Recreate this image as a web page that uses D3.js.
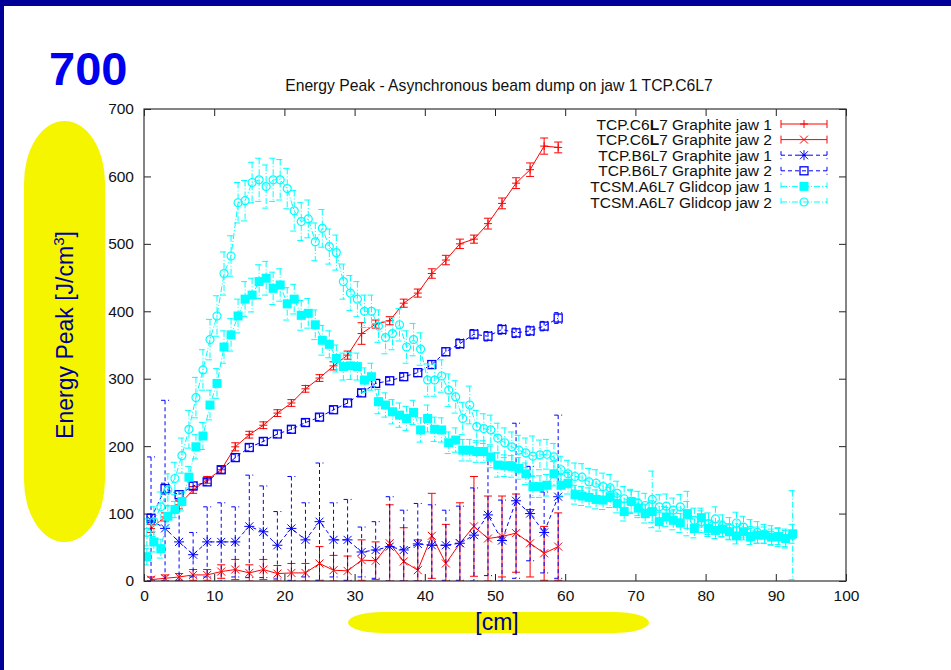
<!DOCTYPE html>
<html>
<head>
<meta charset="utf-8">
<script src="https://cdn.jsdelivr.net/npm/d3@7"></script>
<style>
  html, body { margin: 0; padding: 0; background: #fff; }
  svg { display: block; }
  text { font-family: "Liberation Sans", Arial, Helvetica, sans-serif; }
</style>
</head>
<body>
<svg id="slide" width="951" height="670"></svg>
<script>
// positions along the jaw [cm]
const graphiteX = [1, 3, 5, 7, 9, 11, 13, 15, 17, 19, 21, 23, 25, 27, 29, 31, 33, 35, 37, 39, 41, 43, 45, 47, 49, 51, 53, 55, 57, 59];
const glidX = [
  0.4, 1.4, 2.4, 3.4, 4.4, 5.4, 6.4, 7.4, 8.4, 9.4,
  10.4, 11.4, 12.4, 13.4, 14.4, 15.4, 16.4, 17.4, 18.4, 19.4,
  20.4, 21.4, 22.4, 23.4, 24.4, 25.4, 26.4, 27.4, 28.4, 29.4,
  30.4, 31.4, 32.4, 33.4, 34.4, 35.4, 36.4, 37.4, 38.4, 39.4,
  40.4, 41.4, 42.4, 43.4, 44.4, 45.4, 46.4, 47.4, 48.4, 49.4,
  50.4, 51.4, 52.4, 53.4, 54.4, 55.4, 56.4, 57.4, 58.4, 59.4,
  60.4, 61.4, 62.4, 63.4, 64.4, 65.4, 66.4, 67.4, 68.4, 69.4,
  70.4, 71.4, 72.4, 73.4, 74.4, 75.4, 76.4, 77.4, 78.4, 79.4,
  80.4, 81.4, 82.4, 83.4, 84.4, 85.4, 86.4, 87.4, 88.4, 89.4,
  90.4, 91.4, 92.4];

// energy peak [J/cm3] and errors
const c6Jaw1 = [78, 95, 113, 135, 150, 165, 199, 217, 231, 249, 264, 285, 301, 319, 335, 367, 381, 386, 412, 427, 456, 476, 500, 507, 530, 560, 590, 610, 645, 643];
const c6Jaw1Err = [6, 6, 6, 5, 5, 5, 6, 5, 5, 5, 5, 5, 5, 6, 6, 16, 6, 6, 6, 6, 7, 7, 7, 6, 8, 8, 8, 10, 12, 8];
const c6Jaw2 = [2, 4, 6, 9, 9, 14, 17, 12, 17, 11, 12, 12, 26, 16, 15, 31, 30, 56, 29, 16, 67, 26, 56, 81, 63, 66, 71, 56, 41, 51];
const c6Jaw2Err = [4, 5, 5, 8, 8, 10, 15, 12, 15, 12, 14, 14, 25, 22, 22, 30, 28, 57, 50, 45, 63, 58, 60, 74, 63, 60, 58, 50, 40, 50];
const b6Jaw1 = [90, 78, 58, 39, 58, 58, 58, 81, 73, 53, 78, 61, 88, 61, 61, 43, 46, 51, 46, 55, 53, 53, 56, 68, 98, 60, 119, 100, 72, 125];
const b6Jaw1Err = [94, 190, 60, 33, 52, 58, 52, 76, 68, 50, 77, 55, 87, 55, 60, 37, 42, 74, 59, 60, 60, 52, 55, 70, 90, 60, 115, 70, 60, 121];
const b6Jaw2 = [93, 137, 128, 141, 147, 165, 183, 198, 207, 218, 225, 235, 243, 254, 264, 279, 293, 297, 303, 309, 321, 340, 352, 366, 363, 373, 368, 371, 378, 390];
const b6Jaw2Err = [6, 8, 6, 5, 5, 5, 5, 5, 5, 5, 5, 5, 5, 5, 5, 5, 5, 5, 5, 6, 6, 6, 7, 7, 7, 7, 7, 7, 7, 8];
const glidJaw1 = [
  36, 58, 48, 96, 106, 118, 154, 199, 215, 261,
  293, 347, 365, 393, 418, 424, 444, 449, 434, 439,
  411, 418, 394, 397, 380, 357, 351, 330, 318, 319,
  318, 298, 303, 266, 261, 251, 246, 241, 250, 224,
  241, 225, 224, 205, 209, 194, 194, 192, 192, 184,
  172, 171, 170, 167, 159, 140, 140, 142, 159, 142,
  145, 128, 126, 124, 121, 120, 125, 115, 103, 118,
  108, 100, 103, 88, 95, 90, 86, 100, 78, 94,
  78, 75, 77, 73, 67, 73, 66, 68, 68, 65,
  66, 63, 70];
const glidJaw1Err = [
  12, 15, 14, 16, 12, 14, 16, 18, 20, 22,
  22, 24, 24, 25, 26, 25, 25, 25, 24, 24,
  24, 22, 22, 22, 22, 22, 20, 20, 20, 20,
  20, 18, 20, 18, 18, 18, 18, 18, 18, 18,
  20, 18, 18, 16, 18, 16, 16, 16, 16, 16,
  18, 16, 16, 16, 16, 16, 16, 16, 18, 16,
  16, 14, 14, 14, 14, 14, 16, 14, 14, 16,
  14, 14, 16, 14, 14, 14, 14, 33, 14, 14,
  12, 12, 12, 12, 12, 12, 12, 12, 12, 12,
  12, 12, 14];
const glidJaw2 = [
  72, 88, 110, 135, 152, 186, 225, 272, 313, 358,
  393, 456, 482, 561, 564, 591, 595, 585, 595, 595,
  582, 549, 533, 537, 503, 523, 496, 487, 444, 427,
  418, 400, 400, 378, 361, 367, 380, 347, 358, 344,
  298, 298, 304, 283, 273, 241, 261, 229, 226, 224,
  212, 205, 199, 194, 190, 185, 187, 188, 184, 165,
  159, 155, 154, 147, 145, 140, 138, 130, 122, 118,
  115, 112, 121, 110, 111, 105, 110, 98, 90, 88,
  85, 92, 82, 78, 86, 80, 75, 72, 70, 68,
  65, 63, 68];
const glidJaw2Err = [
  20, 22, 22, 24, 24, 26, 28, 30, 30, 30,
  30, 32, 30, 30, 30, 30, 32, 32, 32, 30,
  30, 30, 28, 28, 28, 28, 26, 26, 26, 26,
  26, 24, 24, 24, 24, 24, 24, 24, 24, 24,
  24, 24, 24, 24, 24, 24, 28, 24, 22, 22,
  22, 22, 22, 22, 22, 30, 22, 22, 20, 20,
  20, 20, 20, 20, 20, 20, 20, 18, 18, 18,
  18, 18, 42, 18, 18, 18, 18, 20, 18, 16,
  16, 18, 16, 16, 16, 16, 16, 16, 14, 14,
  14, 14, 66];

const xTicks = [0, 10, 20, 30, 40, 50, 60, 70, 80, 90, 100];
const yTicks = [0, 100, 200, 300, 400, 500, 600, 700];

const series = [
  { name: "TCP.C6L7 Graphite jaw 1", x: graphiteX, y: c6Jaw1, err: c6Jaw1Err, color: "#ff0000", dash: null, marker: "plus" },
  { name: "TCP.C6L7 Graphite jaw 2", x: graphiteX, y: c6Jaw2, err: c6Jaw2Err, color: "#ff0000", dash: null, marker: "cross" },
  { name: "TCP.B6L7 Graphite jaw 1", x: graphiteX, y: b6Jaw1, err: b6Jaw1Err, color: "#0000ff", dash: "4,3", marker: "star" },
  { name: "TCP.B6L7 Graphite jaw 2", x: graphiteX, y: b6Jaw2, err: b6Jaw2Err, color: "#0000ff", dash: "4,3", marker: "box" },
  { name: "TCSM.A6L7 Glidcop jaw 1", x: glidX, y: glidJaw1, err: glidJaw1Err, color: "#00ffff", dash: "6,2,1,2", marker: "fbox" },
  { name: "TCSM.A6L7 Glidcop jaw 2", x: glidX, y: glidJaw2, err: glidJaw2Err, color: "#00ffff", dash: "6,2,1,2", marker: "circle" }
];

const svg = d3.select("#slide");
const plot = { left: 144, right: 846, top: 109, bottom: 581 };

const x = d3.scaleLinear().domain([0, 100]).range([plot.left, plot.right]);
const y = d3.scaleLinear().domain([0, 700]).range([plot.bottom, plot.top]);

// slide decoration
svg.append("rect").attr("x", 0).attr("y", 0).attr("width", 951).attr("height", 6).attr("fill", "#000099");
svg.append("rect").attr("x", 0).attr("y", 0).attr("width", 4).attr("height", 670).attr("fill", "#000099");

svg.append("text")
  .attr("x", 49).attr("y", 85)
  .attr("font-size", 47).attr("font-weight", "bold")
  .attr("fill", "#0000ee")
  .text("700");

svg.append("rect")
  .attr("x", 24).attr("y", 121).attr("width", 81).attr("height", 421)
  .attr("rx", 40).attr("ry", 62)
  .attr("fill", "#f5f500");
svg.append("rect")
  .attr("x", 348).attr("y", 612).attr("width", 301).attr("height", 21)
  .attr("rx", 35).attr("ry", 10.5)
  .attr("fill", "#f5f500");

const yLabel = svg.append("text")
  .attr("transform", "translate(73,335) rotate(-90)")
  .attr("text-anchor", "middle")
  .attr("font-size", 23)
  .attr("fill", "#000090");
yLabel.append("tspan").text("Energy Peak [J/cm");
yLabel.append("tspan").attr("font-size", 15).attr("dy", -9).text("3");
yLabel.append("tspan").attr("dy", 9).text("]");

svg.append("text")
  .attr("x", 497).attr("y", 630)
  .attr("text-anchor", "middle")
  .attr("font-size", 23)
  .attr("fill", "#000090")
  .text("[cm]");

// title
svg.append("text")
  .attr("x", 499).attr("y", 91)
  .attr("text-anchor", "middle")
  .attr("font-size", 15.7)
  .attr("fill", "#111")
  .text("Energy Peak - Asynchronous beam dump on jaw 1 TCP.C6L7");

// axes, gnuplot style: inward ticks mirrored on all sides
function styleAxis(g) {
  g.select(".domain").remove();
  g.selectAll(".tick line").attr("stroke", "#222");
  g.selectAll(".tick text").attr("fill", "#111").attr("font-size", 15.5)
    .attr("font-family", "'Liberation Sans', Arial, sans-serif");
}

svg.append("g")
  .attr("transform", "translate(0," + plot.bottom + ")")
  .call(d3.axisBottom(x).tickValues(xTicks).tickSizeInner(-7).tickSizeOuter(0).tickPadding(9))
  .call(styleAxis);
svg.append("g")
  .attr("transform", "translate(0," + plot.top + ")")
  .call(d3.axisTop(x).tickValues(xTicks).tickSizeInner(-7).tickSizeOuter(0).tickFormat(""))
  .call(styleAxis);
svg.append("g")
  .attr("transform", "translate(" + plot.left + ",0)")
  .call(d3.axisLeft(y).tickValues(yTicks).tickSizeInner(-7).tickSizeOuter(0).tickPadding(10))
  .call(styleAxis);
svg.append("g")
  .attr("transform", "translate(" + plot.right + ",0)")
  .call(d3.axisRight(y).tickValues(yTicks).tickSizeInner(-7).tickSizeOuter(0).tickFormat(""))
  .call(styleAxis);

svg.append("defs").append("clipPath")
  .attr("id", "clip")
  .append("rect")
  .attr("x", plot.left).attr("y", plot.top)
  .attr("width", plot.right - plot.left).attr("height", plot.bottom - plot.top);

// markers
function drawMarker(g, type, color) {
  switch (type) {
    case "plus":
      g.append("path").attr("d", "M-4,0H4M0,-4V4").attr("stroke", color).attr("fill", "none");
      break;
    case "cross":
      g.append("path").attr("d", "M-4,-4L4,4M-4,4L4,-4").attr("stroke", color).attr("fill", "none");
      break;
    case "star":
      g.append("path").attr("d", "M-5,0H5M0,-5V5M-4,-4L4,4M-4,4L4,-4").attr("stroke", color).attr("fill", "none");
      break;
    case "box":
      g.append("rect").attr("x", -4).attr("y", -4).attr("width", 8).attr("height", 8)
        .attr("stroke", color).attr("stroke-width", 1.3).attr("fill", "none");
      break;
    case "fbox":
      g.append("rect").attr("x", -4.5).attr("y", -4.5).attr("width", 9).attr("height", 9).attr("fill", color);
      break;
    case "circle":
      g.append("circle").attr("r", 4).attr("stroke", color).attr("stroke-width", 1.2).attr("fill", "none");
      break;
  }
}

const data = svg.append("g").attr("clip-path", "url(#clip)");

series.forEach(function (s) {
  const pts = s.x.map(function (v, i) { return { x: v, y: s.y[i], e: s.err[i] }; });
  const g = data.append("g");

  // error bars with caps
  g.selectAll("path.err")
    .data(pts)
    .enter()
    .append("path")
    .attr("class", "err")
    .attr("d", function (d) {
      const px = x(d.x), hi = y(d.y + d.e), lo = y(Math.max(0, d.y - d.e));
      return "M" + (px - 4) + "," + hi + "H" + (px + 4) + "M" + px + "," + hi + "V" + lo +
        "M" + (px - 4) + "," + lo + "H" + (px + 4);
    })
    .attr("stroke", s.color)
    .attr("stroke-dasharray", s.dash)
    .attr("fill", "none");

  g.append("path")
    .datum(pts)
    .attr("d", d3.line().x(function (d) { return x(d.x); }).y(function (d) { return y(d.y); }))
    .attr("stroke", s.color)
    .attr("stroke-dasharray", s.dash)
    .attr("fill", "none");

  g.selectAll("g.pt")
    .data(pts)
    .enter()
    .append("g")
    .attr("class", "pt")
    .attr("transform", function (d) { return "translate(" + x(d.x) + "," + y(d.y) + ")"; })
    .each(function () { drawMarker(d3.select(this), s.marker, s.color); });
});

// frame
svg.append("rect")
  .attr("x", plot.left).attr("y", plot.top)
  .attr("width", plot.right - plot.left).attr("height", plot.bottom - plot.top)
  .attr("fill", "none").attr("stroke", "#333").attr("stroke-width", 1.2);

// legend
const legend = svg.append("g");
series.forEach(function (s, i) {
  const ly = 124 + i * 15.6;
  const t = legend.append("text")
    .attr("x", 772).attr("y", ly + 5.5)
    .attr("text-anchor", "end")
    .attr("font-size", 15.5)
    .attr("fill", "#111");
  if (s.name.indexOf("C6L7") >= 0) {
    const parts = s.name.split("C6L7");
    t.append("tspan").text(parts[0] + "C6");
    t.append("tspan").attr("font-weight", "bold").text("L");
    t.append("tspan").text("7" + parts[1]);
  } else {
    t.text(s.name);
  }
  legend.append("path")
    .attr("d", "M781," + (ly - 4) + "V" + (ly + 4) + "M781," + ly + "H827M827," + (ly - 4) + "V" + (ly + 4))
    .attr("stroke", s.color)
    .attr("stroke-dasharray", s.dash)
    .attr("fill", "none");
  const m = legend.append("g").attr("transform", "translate(804," + ly + ")");
  drawMarker(m, s.marker, s.color);
});
</script>
</body>
</html>
